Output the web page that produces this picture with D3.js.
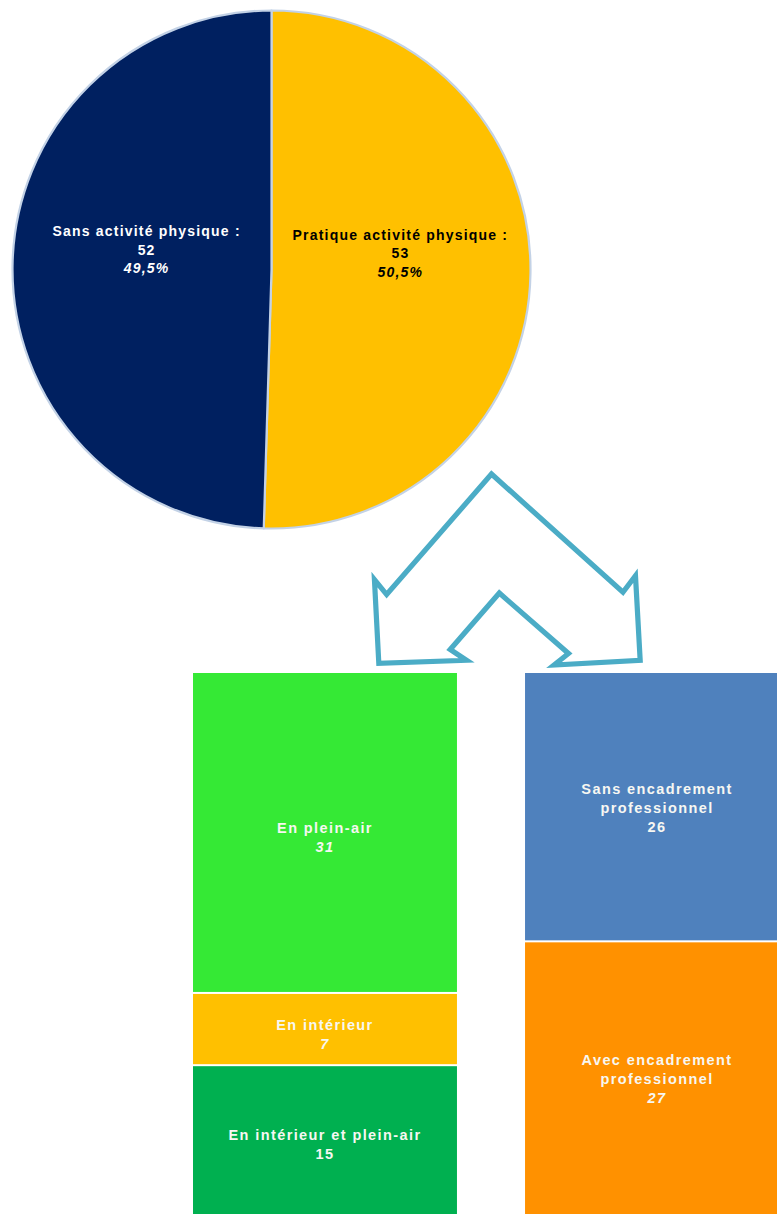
<!DOCTYPE html>
<html>
<head>
<meta charset="utf-8">
<script src="https://cdn.jsdelivr.net/npm/d3@7"></script>
<style>
  html, body { margin: 0; padding: 0; background: #ffffff; }
  svg { display: block; }
  text { font-family: "Liberation Sans", Arial, sans-serif; font-weight: bold; }
</style>
</head>
<body>
<svg id="chart" width="777" height="1214"></svg>
<script>
// ---- Data ----
const pieLabels = ["Pratique activité physique :", "Sans activité physique :"];
const pieValues = [53, 52];
const piePercents = ["50,5%", "49,5%"];
const pieColors = ["#FFC000", "#002060"];
const pieTextColors = ["#000000", "#ffffff"];

const stackGroups = ["lieu", "encadrement"];
const lieuLabels = [["En plein-air"], ["En intérieur"], ["En intérieur et plein-air"]];
const lieuValues = [31, 7, 15];
const lieuItalic = [true, true, false];
const lieuColors = ["#35E935", "#FFC000", "#00B050"];

const encLabels = [["Sans encadrement", "professionnel"], ["Avec encadrement", "professionnel"]];
const encValues = [26, 27];
const encItalic = [false, true];
const encColors = ["#4F81BD", "#FF9100"];

// ---- Setup ----
const svg = d3.select("#chart");
const W = 777, H = 1214;

// ---- Pie ----
const cx = 271.5, cy = 269.5, R = 259;
const pie = d3.pie().sort(null).startAngle(0).endAngle(2 * Math.PI);
const arcs = pie(pieValues);
const arc = d3.arc().innerRadius(0).outerRadius(R);
const labelArc = d3.arc().innerRadius(R * 0.49).outerRadius(R * 0.49);

const gPie = svg.append("g").attr("transform", `translate(${cx},${cy})`);
gPie.selectAll("path.slice")
  .data(arcs)
  .join("path")
  .attr("class", "slice")
  .attr("d", arc)
  .attr("fill", (d, i) => pieColors[i])
  .attr("stroke", "#c3d2e6")
  .attr("stroke-width", 2.2)
  .attr("stroke-linejoin", "round");

const lineH = 18.5;
arcs.forEach((d, i) => {
  const [lx, ly] = labelArc.centroid(d);
  const blockCy = ly - 18;
  const t = gPie.append("text")
    .attr("text-anchor", "middle")
    .attr("font-size", 14)
    .attr("letter-spacing", 1.2)
    .attr("fill", pieTextColors[i]);
  const lines = [pieLabels[i], String(pieValues[i]), piePercents[i]];
  lines.forEach((s, k) => {
    t.append("tspan")
      .attr("x", lx + 2)
      .attr("y", blockCy + (k - 1) * lineH + 5)
      .attr("font-style", k === 2 ? "italic" : "normal")
      .text(s);
  });
});

// ---- Arrow (decoration, normalized shape mapped between pie and bars) ----
const arrowShape = [
  [0.5, 0.0], [0.92, 0.616], [0.96, 0.53], [0.975, 0.97], [0.7, 0.995], [0.746, 0.935],
  [0.525, 0.62], [0.368, 0.914], [0.42, 0.97], [0.14, 0.986], [0.126, 0.55], [0.165, 0.628]
];
const ax = d3.scaleLinear().domain([0, 1]).range([335, 648]);
const ay = d3.scaleLinear().domain([0, 1]).range([474, 666]);
svg.append("path")
  .attr("d", d3.line().x(p => ax(p[0])).y(p => ay(p[1])).curve(d3.curveLinearClosed)(arrowShape))
  .attr("fill", "none")
  .attr("stroke", "#4BACC6")
  .attr("stroke-width", 5.2)
  .attr("stroke-linejoin", "miter");

// ---- Stacked columns ----
const x = d3.scaleBand().domain(stackGroups).range([193, 789]).paddingInner(0.205).paddingOuter(0);
const y = d3.scaleLinear().domain([0, 53]).range([673, 1220]);

function drawStack(group, values, labels, colors, italics) {
  let acc = 0;
  const segs = values.map((v, i) => {
    const s = { y0: acc, y1: acc + v, v, i };
    acc += v;
    return s;
  });
  const g = svg.append("g");
  g.selectAll("rect")
    .data(segs)
    .join("rect")
    .attr("x", x(group))
    .attr("width", x.bandwidth())
    .attr("y", d => y(d.y0) + (d.i > 0 ? 1 : 0))
    .attr("height", d => y(d.y1) - y(d.y0) - (d.i > 0 ? 1 : 0) - (d.i < segs.length - 1 ? 1 : 0))
    .attr("fill", d => colors[d.i]);

  segs.forEach(d => {
    const top = y(d.y0), bot = Math.min(y(d.y1), H);
    const lines = labels[d.i].concat([String(d.v)]);
    const n = lines.length;
    const lh = 19;
    const cMid = (top + bot) / 2 + (n === 2 ? 5 : 1);
    const t = g.append("text")
      .attr("text-anchor", "middle")
      .attr("font-size", 14.5)
      .attr("letter-spacing", 1.4)
      .attr("fill", "#f7f7f2");
    lines.forEach((s, k) => {
      t.append("tspan")
        .attr("x", x(group) + x.bandwidth() / 2)
        .attr("y", cMid + (k - (n - 1) / 2) * lh + 5)
        .attr("font-style", (k === n - 1 && italics[d.i]) ? "italic" : "normal")
        .text(s);
    });
  });
}

drawStack("lieu", lieuValues, lieuLabels, lieuColors, lieuItalic);
drawStack("encadrement", encValues, encLabels, encColors, encItalic);
</script>
</body>
</html>
